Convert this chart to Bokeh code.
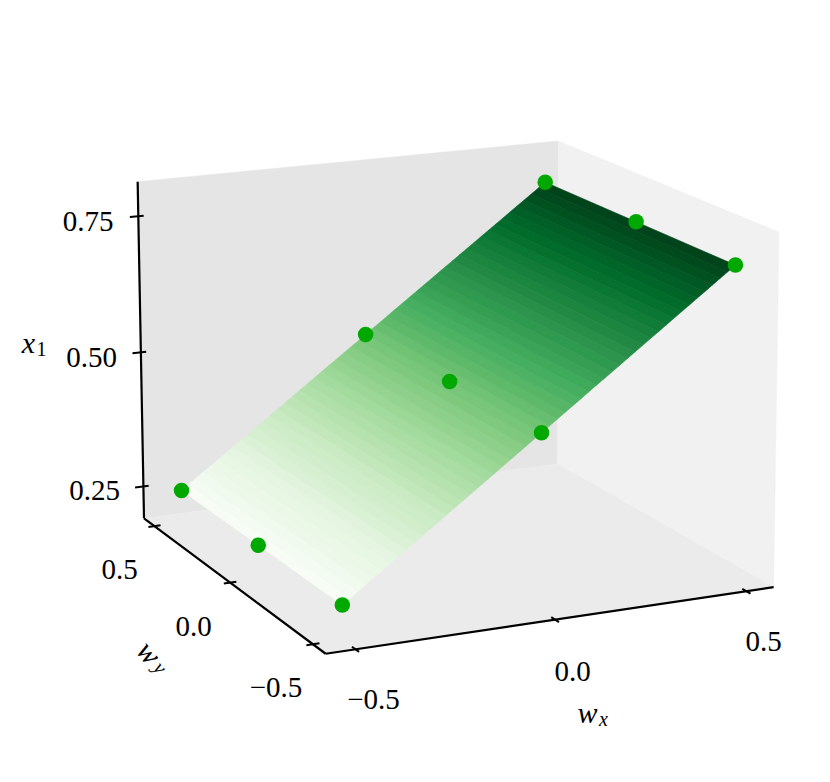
import numpy as np
from bokeh.plotting import figure
from bokeh.models import Range1d
from bokeh.palettes import Greens256
from bokeh.core.properties import value
from bokeh.embed import file_html
from bokeh.resources import INLINE

# ---- data ----
wx_points = [-0.5, -0.5, -0.5, 0.0, 0.0, 0.0, 0.5, 0.5, 0.5]
wy_points = [0.5, 0.0, -0.5, 0.5, 0.0, -0.5, 0.5, 0.0, -0.5]
x1_points = [0.25, 0.25, 0.25, 0.5, 0.5, 0.5, 0.75, 0.75, 0.75]

surface_wx_edges = [-0.50, -0.48, -0.46, -0.44, -0.42, -0.40, -0.38, -0.36, -0.34, -0.32,
                    -0.30, -0.28, -0.26, -0.24, -0.22, -0.20, -0.18, -0.16, -0.14, -0.12,
                    -0.10, -0.08, -0.06, -0.04, -0.02, 0.00, 0.02, 0.04, 0.06, 0.08,
                    0.10, 0.12, 0.14, 0.16, 0.18, 0.20, 0.22, 0.24, 0.26, 0.28,
                    0.30, 0.32, 0.34, 0.36, 0.38, 0.40, 0.42, 0.44, 0.46, 0.48, 0.50]
surface_x1_edges = [0.25, 0.26, 0.27, 0.28, 0.29, 0.30, 0.31, 0.32, 0.33, 0.34,
                    0.35, 0.36, 0.37, 0.38, 0.39, 0.40, 0.41, 0.42, 0.43, 0.44,
                    0.45, 0.46, 0.47, 0.48, 0.49, 0.50, 0.51, 0.52, 0.53, 0.54,
                    0.55, 0.56, 0.57, 0.58, 0.59, 0.60, 0.61, 0.62, 0.63, 0.64,
                    0.65, 0.66, 0.67, 0.68, 0.69, 0.70, 0.71, 0.72, 0.73, 0.74, 0.75]
surface_wy_span = [-0.5, 0.5]

wx_ticks = [-0.5, 0.0, 0.5]
wy_ticks = [-0.5, 0.0, 0.5]
x1_ticks = [0.25, 0.50, 0.75]
wx_tick_labels = ["\u22120.5", "0.0", "0.5"]
wy_tick_labels = ["\u22120.5", "0.0", "0.5"]
x1_tick_labels = ["0.25", "0.50", "0.75"]

# ---- box limits and camera (3x4 projective matrix) ----
LIM = 0.573
ZLO, ZHI = 0.19, 0.813
CAMERA = np.array([[390.874509, -133.260256, -14.452307, 449.770803],
                   [-30.015783, -62.967496, -557.739162, 654.200805],
                   [0.040011, 0.088485, -0.0293, 1.0]])


def proj(xs, ys, zs):
    h = np.vstack([xs, ys, zs, np.ones(len(xs))]).astype(float)
    s = CAMERA @ h
    return (s[0] / s[2]).tolist(), (s[1] / s[2]).tolist()


W, H = 814, 766
p = figure(width=W, height=H, output_backend="svg", toolbar_location=None,
           x_range=Range1d(0, W), y_range=Range1d(H, 0),
           min_border=0, outline_line_color=None, background_fill_color="white")
p.axis.visible = False
p.grid.visible = False

# panes
panes = [
    ([-LIM, LIM, LIM, -LIM], [LIM, LIM, LIM, LIM], [ZLO, ZLO, ZHI, ZHI], "#e5e5e5"),
    ([LIM, LIM, LIM, LIM], [-LIM, LIM, LIM, -LIM], [ZLO, ZLO, ZHI, ZHI], "#f1f1f1"),
    ([-LIM, LIM, LIM, -LIM], [-LIM, -LIM, LIM, LIM], [ZLO, ZLO, ZLO, ZLO], "#ebebeb"),
]
for xs, ys, zs, col in panes:
    u, v = proj(xs, ys, zs)
    p.patch(u, v, fill_color=col, line_color=col, line_width=0.5)

# axis lines
for xs, ys, zs in [([-LIM, LIM], [-LIM, -LIM], [ZLO, ZLO]),
                   ([-LIM, -LIM], [-LIM, LIM], [ZLO, ZLO]),
                   ([-LIM, -LIM], [LIM, LIM], [ZLO, ZHI])]:
    u, v = proj(xs, ys, zs)
    p.line(u, v, line_color="black", line_width=2.2)

# ticks
for t in wx_ticks:
    u, v = proj([t, t], [-LIM - 0.02, -LIM + 0.02], [ZLO, ZLO])
    p.line(u, v, line_color="black", line_width=2)
for t in wy_ticks:
    u, v = proj([-LIM - 0.016, -LIM + 0.016], [t, t], [ZLO, ZLO])
    p.line(u, v, line_color="black", line_width=2)
for t in x1_ticks:
    u, v = proj([-LIM - 0.022, -LIM + 0.014], [LIM, LIM], [t, t])
    p.line(u, v, line_color="black", line_width=2)

# surface bands
us, vs, cols = [], [], []
for i in range(len(surface_wx_edges) - 1):
    a, b = surface_wx_edges[i], surface_wx_edges[i + 1]
    za, zb = surface_x1_edges[i], surface_x1_edges[i + 1]
    c, d = surface_wy_span
    u, v = proj([a, a, b, b], [c, d, d, c], [za, za, zb, zb])
    us.append(u)
    vs.append(v)
    t = i / (len(surface_wx_edges) - 2)
    cols.append(Greens256[int(round((1 - t) * 255))])
p.patches(us, vs, fill_color=cols, line_color=cols, line_width=0.6)

# points
u, v = proj(wx_points, wy_points, x1_points)
p.scatter(u, v, size=15.5, fill_color="#00a800", line_color=None)

# text
SERIF = value("Liberation Serif")


def label(x, y, s, size=29, style="normal", angle=0):
    p.text([x], [y], text=[s], text_font=SERIF, text_font_size=f"{size}px",
           text_font_style=style, text_align="center", text_baseline="middle",
           text_color="black", angle=angle, angle_units="deg")


for (x, y), s in zip([(373, 699), (572, 671), (763, 641)], wx_tick_labels):
    label(x, y, s)
for (x, y), s in zip([(275.5, 687), (193, 626), (119, 568.5)], wy_tick_labels):
    label(x, y, s)
for (x, y), s in zip([(94, 490), (91, 357), (87.5, 221)], x1_tick_labels):
    label(x, y, s)

label(28, 342, "x", 30, "italic")
label(41, 348, "1", 20)
label(587, 712, "w", 30, "italic")
label(603, 718, "x", 20, "italic")
label(149, 652, "w", 30, "italic", -50)
label(160, 667, "y", 20, "italic", -50)

open("out.html", "w").write(file_html(p, INLINE))
